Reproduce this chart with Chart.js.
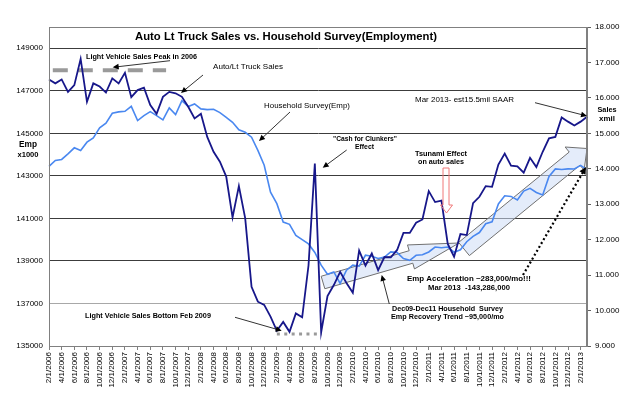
<!DOCTYPE html>
<html><head><meta charset="utf-8">
<script src="https://cdn.jsdelivr.net/npm/chart.js@4/dist/chart.umd.min.js"></script>
<style>html,body{margin:0;padding:0;background:#fff}canvas{display:block}</style>
</head><body>
<canvas id="c" width="624" height="396"></canvas>
<script>
// ---------- DATA ----------
const months = [
"2/1/2006","3/1/2006","4/1/2006","5/1/2006","6/1/2006","7/1/2006","8/1/2006","9/1/2006","10/1/2006","11/1/2006","12/1/2006",
"1/1/2007","2/1/2007","3/1/2007","4/1/2007","5/1/2007","6/1/2007","7/1/2007","8/1/2007","9/1/2007","10/1/2007","11/1/2007","12/1/2007",
"1/1/2008","2/1/2008","3/1/2008","4/1/2008","5/1/2008","6/1/2008","7/1/2008","8/1/2008","9/1/2008","10/1/2008","11/1/2008","12/1/2008",
"1/1/2009","2/1/2009","3/1/2009","4/1/2009","5/1/2009","6/1/2009","7/1/2009","8/1/2009","9/1/2009","10/1/2009","11/1/2009","12/1/2009",
"1/1/2010","2/1/2010","3/1/2010","4/1/2010","5/1/2010","6/1/2010","7/1/2010","8/1/2010","9/1/2010","10/1/2010","11/1/2010","12/1/2010",
"1/1/2011","2/1/2011","3/1/2011","4/1/2011","5/1/2011","6/1/2011","7/1/2011","8/1/2011","9/1/2011","10/1/2011","11/1/2011","12/1/2011",
"1/1/2012","2/1/2012","3/1/2012","4/1/2012","5/1/2012","6/1/2012","7/1/2012","8/1/2012","9/1/2012","10/1/2012","11/1/2012","12/1/2012",
"1/1/2013","2/1/2013","3/1/2013"];

// Household Survey employment (thousands) - left axis
const householdEmp = [
143443,143724,143771,144038,144320,144193,144583,144789,145258,145474,
145943,146008,146037,146271,145601,145835,146023,145835,145633,146196,
145882,146538,146257,146384,146149,146116,146130,145976,145755,145520,
145164,145051,144817,144200,143500,142237,141693,140830,140722,140200,
140000,139800,139400,138799,138377,138485,137941,138565,138799,138752,
139268,139221,139113,139179,139427,139393,139111,139030,139266,139287,
139422,139655,139622,139653,139409,139524,139904,140154,140335,140747,
140836,141677,142065,142034,141865,142287,142415,142220,142101,142974,
143328,143300,143330,143322,143492,143286];

// Auto / light truck sales SAAR (millions) - right axis
const autoSales = [
16.52,16.41,16.52,16.17,16.36,17.10,15.89,16.41,16.32,16.15,
16.55,16.41,16.71,16.02,16.22,16.29,15.80,15.55,16.03,16.17,
16.13,16.03,15.75,15.42,15.55,14.90,14.48,14.20,13.78,12.63,
13.51,12.60,10.67,10.25,10.16,9.83,9.43,9.68,9.40,9.92,
9.81,11.27,14.15,9.39,10.41,10.72,11.09,10.78,10.50,11.69,
11.27,11.61,11.14,11.51,11.50,11.71,12.19,12.19,12.48,12.57,
13.37,13.06,13.10,11.88,11.52,12.16,12.13,13.03,13.21,13.51,
13.49,14.12,14.43,14.09,14.07,13.89,14.31,14.05,14.48,14.86,
14.90,15.45,15.33,15.22,15.33,15.47];

const empTicks = [135000,137000,139000,141000,143000,145000,147000,149000];
const salesTicks = [9,10,11,12,13,14,15,16,17,18];

// reference lines (in data units): sales peak level and sales bottom level
const peakLevel = 16.78, peakFrom = 0.6, peakTo = 18.5;
const bottomLevel = 9.34, bottomFrom = 36, bottomTo = 43.1;

// ---------- STYLE ----------
const FONT = "'Liberation Sans', Arial, sans-serif";
Chart.defaults.font.family = FONT;
Chart.defaults.font.size = 8;
Chart.defaults.color = '#000';

const texts = [
 {t:"Auto Lt Truck Sales vs. Household Survey(Employment)", cx:286, cy:37, w:302, b:true},
 {t:"Emp", cx:28, cy:145, w:18, b:true},
 {t:"x1000", cx:28, cy:154.5, w:21, b:true},
 {t:"Sales", cx:607, cy:110, w:19, b:true},
 {t:"xmil", cx:607, cy:119, w:16, b:true},
 {t:"Light Vehicle Sales Peak in 2006", cx:141.5, cy:57, w:111, b:true},
 {t:"Auto/Lt Truck Sales", cx:248, cy:67, w:70, b:false},
 {t:"Household Survey(Emp)", cx:307, cy:106, w:86, b:false},
 {t:"\"Cash for Clunkers\"", cx:365, cy:139, w:64, b:true},
 {t:"Effect", cx:364.5, cy:147, w:19, b:true},
 {t:"Tsunami Effect", cx:441, cy:154, w:52, b:true},
 {t:"on auto sales", cx:441, cy:162, w:46, b:true},
 {t:"Mar 2013- est15.5mil SAAR", cx:464.5, cy:100, w:99, b:false},
 {t:"Emp Acceleration ~283,000/mo!!!", cx:469, cy:279, w:124, b:true},
 {t:"Mar 2013  -143,286,000", cx:469, cy:287.5, w:82, b:true},
 {t:"Dec09-Dec11 Household  Survey", cx:447.5, cy:309.5, w:111, b:true},
 {t:"Emp Recovery Trend ~95,000/mo", cx:447.5, cy:317.5, w:113, b:true},
 {t:"Light Vehicle Sales Bottom Feb 2009", cx:148, cy:316, w:126, b:true}
];
const pointers = [
 [170,60.7,112.7,67.3],[203,75,181,93],[290,112,259,141],[346.7,150,322.7,167.7],
 [535,102.7,587,116],[389.3,304,381.7,275],[235,317.3,281.7,330.7]
];

function fitText(ctx, o){
  const wt = o.b ? 'bold ' : '';
  ctx.font = wt + '20px ' + FONT;
  const m = ctx.measureText(o.t).width;
  const size = 20 * o.w / m;
  ctx.font = wt + size.toFixed(2) + 'px ' + FONT;
  ctx.fillStyle = '#000';
  ctx.textAlign = 'center';
  ctx.textBaseline = 'middle';
  ctx.fillText(o.t, o.cx, o.cy);
}
function pointer(ctx, x1,y1,x2,y2, dotted){
  ctx.save();
  const a = Math.atan2(y2-y1, x2-x1);
  const hl = dotted ? 7 : 6, hw = dotted ? 3.5 : 2.8;
  ctx.strokeStyle = dotted ? '#000' : '#333';
  ctx.lineWidth = dotted ? 2.2 : 1;
  if (dotted) ctx.setLineDash([2,2.5]);
  ctx.beginPath(); ctx.moveTo(x1,y1);
  ctx.lineTo(x2 - hl*Math.cos(a)*0.8, y2 - hl*Math.sin(a)*0.8); ctx.stroke();
  ctx.setLineDash([]);
  ctx.fillStyle = '#000';
  ctx.beginPath(); ctx.moveTo(x2,y2);
  ctx.lineTo(x2 - hl*Math.cos(a) + hw*Math.sin(a), y2 - hl*Math.sin(a) - hw*Math.cos(a));
  ctx.lineTo(x2 - hl*Math.cos(a) - hw*Math.sin(a), y2 - hl*Math.sin(a) + hw*Math.cos(a));
  ctx.closePath(); ctx.fill();
  ctx.restore();
}
function blockArrow(ctx, tx,ty, px,py, bh, hh, hl){
  const L = Math.hypot(px-tx, py-ty);
  const dx = (px-tx)/L, dy = (py-ty)/L, nx = -dy, ny = dx;
  const bx = px - dx*hl, by = py - dy*hl;
  ctx.save();
  ctx.beginPath();
  ctx.moveTo(tx + nx*bh, ty + ny*bh);
  ctx.lineTo(bx + nx*bh, by + ny*bh);
  ctx.lineTo(bx + nx*hh, by + ny*hh);
  ctx.lineTo(px, py);
  ctx.lineTo(bx - nx*hh, by - ny*hh);
  ctx.lineTo(bx - nx*bh, by - ny*bh);
  ctx.lineTo(tx - nx*bh, ty - ny*bh);
  ctx.closePath();
  ctx.fillStyle = 'rgba(205,220,245,0.55)';
  ctx.fill();
  ctx.strokeStyle = '#707070'; ctx.lineWidth = 1;
  ctx.stroke();
  ctx.restore();
}

const decor = {
  id: 'decor',
  beforeDatasetsDraw(chart){
    const ctx = chart.ctx, x = chart.scales.x, y2 = chart.scales.y2;
    // trend block arrows
    blockArrow(ctx, 323,282.5, 459,243, 6.5, 12.5, 50);
    blockArrow(ctx, 464,249, 587,148.5, 8.5, 15, 16);
    // peak dashed line
    ctx.save();
    ctx.strokeStyle = '#9a9a9a'; ctx.lineWidth = 4; ctx.setLineDash([15,10]);
    ctx.beginPath();
    ctx.moveTo(x.getPixelForValue(peakFrom), y2.getPixelForValue(peakLevel));
    ctx.lineTo(x.getPixelForValue(peakTo), y2.getPixelForValue(peakLevel));
    ctx.stroke();
    // bottom dotted line
    ctx.lineWidth = 3; ctx.setLineDash([3,4.4]);
    ctx.beginPath();
    ctx.moveTo(x.getPixelForValue(bottomFrom), y2.getPixelForValue(bottomLevel));
    ctx.lineTo(x.getPixelForValue(bottomTo), y2.getPixelForValue(bottomLevel));
    ctx.stroke();
    ctx.restore();
  },
  afterDatasetsDraw(chart){
    const ctx = chart.ctx, a = chart.chartArea;
    // plot border
    ctx.save();
    ctx.strokeStyle = '#808080'; ctx.lineWidth = 1;
    ctx.strokeRect(a.left+0.5, a.top+0.5, a.right-a.left-1, a.bottom-a.top);
    ctx.restore();
    // tsunami hollow arrow
    ctx.save();
    ctx.strokeStyle = '#f07878'; ctx.lineWidth = 1;
    ctx.beginPath();
    ctx.moveTo(443,168); ctx.lineTo(449,168); ctx.lineTo(449,205); ctx.lineTo(452.5,205);
    ctx.lineTo(446.5,213); ctx.lineTo(440.5,205); ctx.lineTo(443,205); ctx.closePath();
    ctx.stroke();
    ctx.restore();
    pointers.forEach(p => pointer(ctx, p[0],p[1],p[2],p[3], false));
    pointer(ctx, 523,275, 586,167, true);
  },
  afterDraw(chart){
    const ctx = chart.ctx;
    ctx.save();
    texts.forEach(o => fitText(ctx, o));
    ctx.restore();
  }
};

new Chart(document.getElementById('c'), {
  type: 'line',
  data: {
    labels: months,
    datasets: [
      {label:'Auto/Lt Truck Sales', data:autoSales, yAxisID:'y2', borderColor:'#17178a', borderWidth:1.8, pointRadius:0, tension:0},
      {label:'Household Survey(Emp)', data:householdEmp, yAxisID:'y', borderColor:'#4a88f0', borderWidth:1.6, pointRadius:0, tension:0}
    ]
  },
  options: {
    responsive:false, animation:false, devicePixelRatio:1,
    layout:{padding:{top:27,left:0,right:0,bottom:0}},
    plugins:{legend:{display:false}, tooltip:{enabled:false}, title:{display:false}},
    scales:{
      x:{
        type:'category', offset:false,
        grid:{drawOnChartArea:false, drawTicks:true, tickLength:4, color:'#808080'},
        border:{display:true, color:'#808080'},
        ticks:{autoSkip:false, maxRotation:90, minRotation:90, padding:2, font:{size:8}, color:'#000'},
        afterBuildTicks: s => { s.ticks = s.ticks.filter(t => t.value % 2 === 0); },
        afterFit: s => { s.height = 50; }
      },
      y:{
        position:'left', min:135000, max:150000,
        grid:{drawTicks:false, color: c => (c.tick && c.tick.value === 137000) ? '#a8a8a8' : '#3c3c3c', lineWidth:1},
        border:{display:true, color:'#808080'},
        ticks:{padding:6, font:{size:8}, color:'#000', callback: v => String(v)},
        afterBuildTicks: s => { s.ticks = empTicks.map(v => ({value:v})); },
        afterFit: s => { s.width = 49; }
      },
      y2:{
        position:'right', min:9, max:18,
        grid:{drawOnChartArea:false, drawTicks:true, tickLength:4, color:'#606060'},
        border:{display:true, color:'#808080'},
        ticks:{padding:4, font:{size:8}, color:'#000', callback: v => Number(v).toFixed(3)},
        afterBuildTicks: s => { s.ticks = salesTicks.map(v => ({value:v})); },
        afterFit: s => { s.width = 37; }
      }
    }
  },
  plugins:[decor]
});
</script>
</body></html>
